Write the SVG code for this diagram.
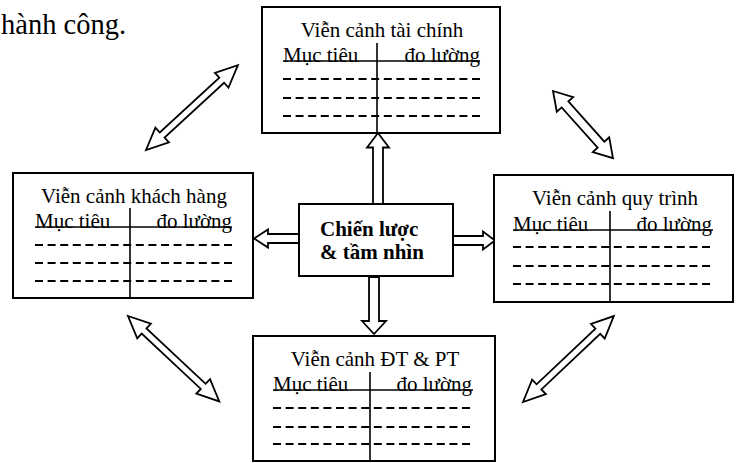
<svg xmlns="http://www.w3.org/2000/svg" width="740" height="463" viewBox="0 0 740 463">
<style>
  text { font-family: "Liberation Serif", "Times New Roman", serif; fill: #000; }
  .t { font-size: 21px; }
  .c { text-anchor: middle; }
  .e { text-anchor: end; }
  .b { font-size: 21px; font-weight: bold; }
  .box { fill: #fff; stroke: #000; stroke-width: 2; }
  .ln { stroke: #000; stroke-width: 1.6; fill: none; }
  .ds { stroke: #000; stroke-width: 2; stroke-dasharray: 8 4.6; fill: none; }
  .ar { fill: #fff; stroke: #000; stroke-width: 1.8; stroke-linejoin: miter; }
</style>
<defs>
  <path id="dbl125" d="M0,0 L22,-10 L22,-3.5 L103,-3.5 L103,-10 L125,0 L103,10 L103,3.5 L22,3.5 L22,10 Z"/>
  <path id="dbl90" d="M0,0 L18,-11 L18,-4.5 L72,-4.5 L72,-11 L90,0 L72,11 L72,4.5 L18,4.5 L18,11 Z"/>
</defs>

<text x="1" y="34" style="font-size:28.5px">hành công.</text>

<g id="connectors">
  <polygon class="ar" points="378,133 389,147.5 383,147.5 383,204 373,204 373,147.5 367,147.5"/>
  <polygon class="ar" points="453,236 483,236 483,231.5 495,240.5 483,249.5 483,245 453,245"/>
  <polygon class="ar" points="299,234 268,234 268,229.5 254,238.5 268,247.5 268,243 299,243"/>
  <polygon class="ar" points="369,277 379,277 379,321 386,321 374,334 362,321 369,321"/>
  <use href="#dbl125" class="ar" transform="translate(146,150) rotate(-42.7)"/>
  <use href="#dbl90" class="ar" transform="translate(553,91) rotate(48.2)"/>
  <use href="#dbl125" class="ar" transform="translate(128,316) rotate(43.1)"/>
  <use href="#dbl125" class="ar" transform="translate(523,402) rotate(-43.4)"/>
</g>

<g id="center">
  <rect class="box" x="299" y="204" width="154" height="72"/>
  <text class="b" x="320" y="236">Chiến lược</text>
  <text class="b" x="320" y="259">&amp; tầm nhìn</text>
</g>

<g id="finance">
  <rect class="box" x="262" y="7" width="238" height="126"/>
  <text class="t c" x="382" y="37">Viễn cảnh tài chính</text>
  <text class="t" x="283" y="62">Mục tiêu</text>
  <text class="t e" x="480" y="62">đo lường</text>
  <line class="ln" x1="283" y1="61" x2="480" y2="61"/>
  <line class="ln" x1="377" y1="43" x2="377" y2="133"/>
  <line class="ds" x1="283" y1="79" x2="480" y2="79"/>
  <line class="ds" x1="283" y1="98" x2="480" y2="98"/>
  <line class="ds" x1="283" y1="116" x2="480" y2="116"/>
</g>

<g id="customer">
  <rect class="box" x="13" y="173" width="240" height="125"/>
  <text class="t c" x="134" y="203">Viễn cảnh khách hàng</text>
  <text class="t" x="35" y="228">Mục tiêu</text>
  <text class="t e" x="232" y="228">đo lường</text>
  <line class="ln" x1="35" y1="227" x2="232" y2="227"/>
  <line class="ln" x1="130" y1="208" x2="130" y2="298"/>
  <line class="ds" x1="35" y1="245" x2="232" y2="245"/>
  <line class="ds" x1="35" y1="263" x2="232" y2="263"/>
  <line class="ds" x1="35" y1="281" x2="232" y2="281"/>
</g>

<g id="process">
  <rect class="box" x="494" y="175" width="239" height="127"/>
  <text class="t c" x="615" y="205">Viễn cảnh quy trình</text>
  <text class="t" x="513" y="231">Mục tiêu</text>
  <text class="t e" x="712" y="231">đo lường</text>
  <line class="ln" x1="513" y1="230" x2="713" y2="230"/>
  <line class="ln" x1="610" y1="211" x2="610" y2="302"/>
  <line class="ds" x1="513" y1="247" x2="713" y2="247"/>
  <line class="ds" x1="513" y1="266" x2="713" y2="266"/>
  <line class="ds" x1="513" y1="284" x2="713" y2="284"/>
</g>

<g id="learning">
  <rect class="box" x="253" y="336" width="242" height="125"/>
  <text class="t c" x="375" y="366">Viễn cảnh ĐT &amp; PT</text>
  <text class="t" x="273" y="391">Mục tiêu</text>
  <text class="t e" x="472" y="391">đo lường</text>
  <line class="ln" x1="273" y1="390" x2="473" y2="390"/>
  <line class="ln" x1="370" y1="372" x2="370" y2="461"/>
  <line class="ds" x1="273" y1="408" x2="473" y2="408"/>
  <line class="ds" x1="273" y1="427" x2="473" y2="427"/>
  <line class="ds" x1="273" y1="444" x2="473" y2="444"/>
</g>
</svg>
